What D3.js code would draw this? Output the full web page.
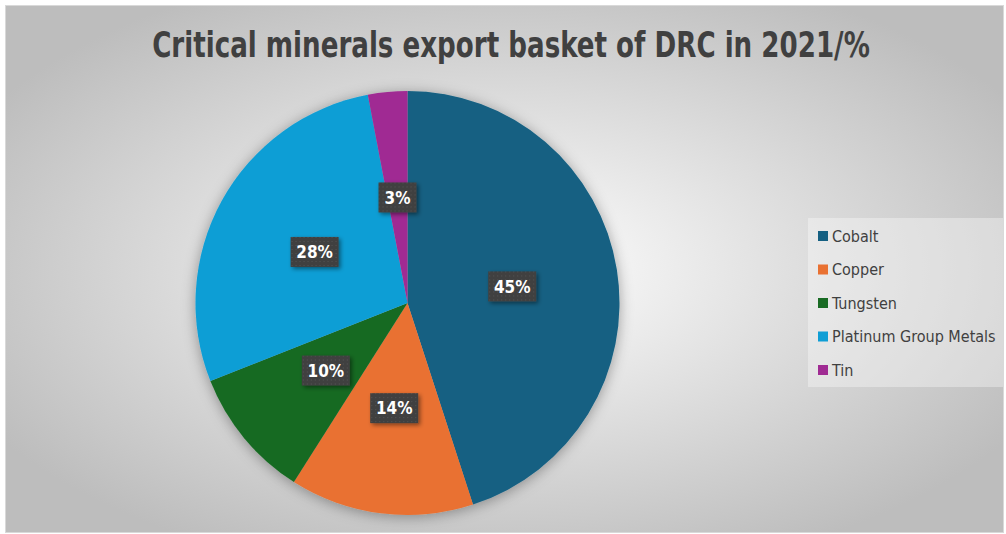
<!DOCTYPE html>
<html><head><meta charset="utf-8">
<script src="https://cdn.jsdelivr.net/npm/d3@7"></script>
<style>body{margin:0;background:#fff}svg{display:block}</style>
</head><body>
<svg id="c" width="1006" height="534"></svg>
<script>
const categories = ["Cobalt","Copper","Tungsten","Platinum Group Metals","Tin"];
const values = [45,14,10,28,3];
const colors = ["#156082","#E97132","#196B24","#0F9ED5","#A02B93"];
const labels = ["45%","14%","10%","28%","3%"];
const title = "Critical minerals export basket of DRC in 2021/%";

const svg = d3.select("#c");
const defs = svg.append("defs");
const rg = defs.append("radialGradient").attr("id","bg").attr("cx","50%").attr("cy","50%").attr("r","60%")
  .attr("gradientUnits","objectBoundingBox");
rg.append("stop").attr("offset","0%").attr("stop-color","#ffffff");
rg.append("stop").attr("offset","100%").attr("stop-color","#bdbdbd");
const sh = defs.append("filter").attr("id","pshadow").attr("x","-20%").attr("y","-20%").attr("width","140%").attr("height","140%");
sh.append("feDropShadow").attr("dx",0).attr("dy",2).attr("stdDeviation",7).attr("flood-color","#000").attr("flood-opacity",0.35);
const ls = defs.append("filter").attr("id","lshadow").attr("x","-30%").attr("y","-30%").attr("width","160%").attr("height","160%");
ls.append("feDropShadow").attr("dx",2).attr("dy",2).attr("stdDeviation",2).attr("flood-color","#000").attr("flood-opacity",0.45);
const pat = defs.append("pattern").attr("id","dots").attr("width",4).attr("height",4).attr("patternUnits","userSpaceOnUse");
pat.append("rect").attr("width",4).attr("height",4).attr("fill","#404040");
pat.append("rect").attr("x",1).attr("y",1).attr("width",1).attr("height",1).attr("fill","#555555");

svg.append("rect").attr("x",5.5).attr("y",5.5).attr("width",998).attr("height",527)
  .attr("fill","url(#bg)").attr("stroke","#d9d9d9").attr("stroke-width",1);

const tg = svg.append("g");
const tt = tg.append("text").attr("x",0).attr("y",0).attr("text-anchor","middle")
  .attr("font-family","'DejaVu Sans Condensed','DejaVu Sans',sans-serif")
  .attr("font-weight","bold").attr("font-size",35).attr("fill","#404040").text(title);
const natW = tt.node().getComputedTextLength();
tg.attr("transform",`translate(511,57) scale(${718/natW},1)`);

const cx = 407.5, cy = 303, r = 212;
const pie = d3.pie().sort(null).value(d=>d);
const arcs = pie(values);
const arc = d3.arc().innerRadius(0).outerRadius(r);
const g = svg.append("g").attr("transform",`translate(${cx},${cy})`);
g.append("g").attr("filter","url(#pshadow)").selectAll("path").data(arcs).join("path")
  .attr("d",arc).attr("fill",(d,i)=>colors[i]);

const lg = g.append("g").selectAll("g").data(arcs).join("g")
  .attr("transform",d=>{const c=arc.centroid(d);return `translate(${c[0]},${c[1]})`;});
lg.each(function(d,i){
  const s = d3.select(this);
  const w = labels[i].length>2?48:38;
  s.append("rect").attr("x",-w/2).attr("y",-15).attr("width",w).attr("height",30)
    .attr("fill","url(#dots)").attr("filter","url(#lshadow)");
  s.append("text").attr("text-anchor","middle").attr("dy","0.36em")
    .attr("font-family","'DejaVu Sans Condensed','DejaVu Sans',sans-serif")
    .attr("font-weight","bold").attr("font-size",17).attr("fill","#fff").text(labels[i]);
});

const leg = svg.append("g");
leg.append("rect").attr("x",808).attr("y",218).attr("width",195).attr("height",169)
  .attr("fill","#ffffff").attr("fill-opacity",0.35);
const ly = d3.scalePoint().domain(categories).range([236,370]);
const items = leg.selectAll("g.it").data(categories).join("g").attr("class","it")
  .attr("transform",d=>`translate(818,${ly(d)})`);
items.append("rect").attr("x",0).attr("y",-5).attr("width",10).attr("height",10).attr("fill",(d,i)=>colors[i]);
items.append("text").attr("x",14).attr("dy","0.35em")
  .attr("font-family","'DejaVu Sans Condensed','DejaVu Sans',sans-serif")
  .attr("font-size",16).attr("fill","#404040").text(d=>d);
</script>
</body></html>
